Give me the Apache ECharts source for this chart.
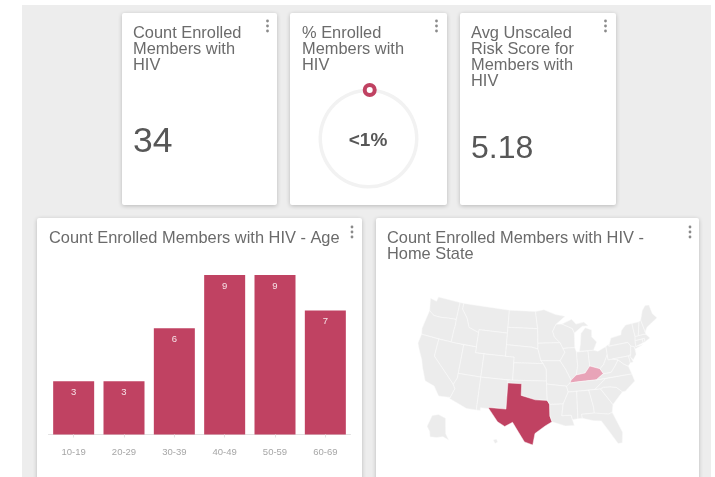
<!DOCTYPE html>
<html>
<head>
<meta charset="utf-8">
<title>HIV members</title>
<script src="https://cdn.jsdelivr.net/npm/echarts@6/dist/echarts.min.js"></script>
<style>
html, body { margin: 0; padding: 0; background: #fff; }
#main { width: 715px; height: 477px; }
</style>
</head>
<body>
<div id="main"></div>
<script>
// values
const ageGroups = ['10-19', '20-29', '30-39', '40-49', '50-59', '60-69'];
const ageCounts = [3, 3, 6, 9, 9, 7];
const enrolledCount = '34';
const enrolledPctLabel = '<1%';
const enrolledPct = [0.4];
const avgRisk = '5.18';
const homeStates = ['Texas', 'Kentucky'];
const homeStateCounts = [33, 1];

const FONT = '"Liberation Sans", Arial, sans-serif';
const CRIMSON = '#c04262';

// rough outlines of the states, lon/lat. AK and HI are insets, same as on the reference
const stateShapes = {
  Washington: [[[-124.7,48.4],[-123,48.2],[-122.8,49],[-117,49],[-117,46],[-119,45.9],[-121,45.7],[-122.7,45.7],[-124,46.3]]],
  Oregon: [[[-124,46.3],[-122.7,45.7],[-121,45.7],[-119,45.9],[-117,46],[-116.9,45],[-117,44.2],[-117,42],[-124.2,42],[-124.5,43]]],
  California: [[[-124.2,42],[-120,42],[-120,39],[-114.6,35],[-114.1,34.3],[-114.7,32.7],[-117.1,32.5],[-118.5,34],[-120.6,34.5],[-121.9,36.6],[-122.5,37.8],[-123.8,39.5],[-124.4,40.4]]],
  Nevada: [[[-120,42],[-114,42],[-114,36.2],[-114.6,35],[-120,39]]],
  Idaho: [[[-117,49],[-116,49],[-116,48],[-114.4,46.6],[-113.5,45.1],[-111,44.5],[-111,42],[-117,42],[-117,44.2],[-116.9,45],[-117,46]]],
  Montana: [[[-116,49],[-104,49],[-104,45],[-111,45],[-111,44.5],[-113.5,45.1],[-114.4,46.6],[-116,48]]],
  Wyoming: [[[-111,45],[-104,45],[-104,41],[-111,41]]],
  Utah: [[[-114,42],[-111,42],[-111,41],[-109,41],[-109,37],[-114,37]]],
  Arizona: [[[-114,37],[-109,37],[-109,31.3],[-111,31.3],[-114.8,32.5],[-114.7,32.7],[-114.1,34.3],[-114.6,35],[-114,36.2]]],
  Colorado: [[[-109,41],[-102,41],[-102,37],[-109,37]]],
  'New Mexico': [[[-109,37],[-103,37],[-103,32],[-106.6,32],[-106.5,31.8],[-108.2,31.8],[-108.2,31.3],[-109,31.3]]],
  'North Dakota': [[[-104,49],[-97.2,49],[-96.6,46],[-104,46]]],
  'South Dakota': [[[-104,46],[-96.6,46],[-96.5,42.5],[-98,42.8],[-104,43]]],
  Nebraska: [[[-104,43],[-98,42.8],[-96.5,42.5],[-95.8,40.5],[-95.3,40],[-102,40],[-102,41],[-104,41]]],
  Kansas: [[[-102,40],[-95.3,40],[-94.6,39],[-94.6,37],[-102,37]]],
  Oklahoma: [[[-103,37],[-94.6,37],[-94.6,36.5],[-94.5,33.7],[-97,33.8],[-100,34.5],[-100,36.5],[-103,36.5]]],
  Texas: [[[-106.6,32],[-103,32],[-103,36.5],[-100,36.5],[-100,34.5],[-97,33.8],[-94.5,33.7],[-94,33],[-94,31],[-93.6,30],[-95,29.3],[-97,28],[-97.4,26],[-99,26.5],[-100.5,28.5],[-101.5,29.8],[-103,29],[-104.5,29.7],[-106.5,31.8]]],
  Minnesota: [[[-97.2,49],[-95,49.3],[-92,48.4],[-89.6,48],[-92,46.7],[-92.9,45.5],[-92.5,44.5],[-91.2,43.5],[-96.5,43.5],[-96.6,46]]],
  Iowa: [[[-96.5,43.5],[-91.2,43.5],[-90.2,41.8],[-91.4,40.4],[-95.8,40.5],[-96.5,42.5]]],
  Missouri: [[[-95.8,40.5],[-91.4,40.4],[-90.2,38.8],[-89.2,37],[-89.5,36.5],[-90.3,36],[-94.6,36.5],[-94.6,39],[-95.3,40]]],
  Arkansas: [[[-94.6,36.5],[-90.3,36],[-90,35],[-91.2,33],[-94,33],[-94.5,33.7]]],
  Louisiana: [[[-94,33],[-91.2,33],[-91.6,31],[-89.7,31],[-89.5,30.2],[-89.2,29.2],[-91,29.2],[-93.6,30],[-94,31]]],
  Wisconsin: [[[-92,46.7],[-90.5,46.7],[-88,45.8],[-87.6,45],[-87.8,42.5],[-90.6,42.5],[-91.2,43.5],[-92.5,44.5],[-92.9,45.5]]],
  Illinois: [[[-90.6,42.5],[-87.8,42.5],[-87.5,41.7],[-87.5,39.3],[-88,37.8],[-89.2,37],[-90.2,38.8],[-91.4,40.4],[-90.2,41.8]]],
  Indiana: [[[-87.5,41.7],[-84.8,41.7],[-84.8,39.1],[-86,38],[-88,37.8],[-87.5,39.3]]],
  Michigan: [[[-86.8,41.8],[-83.5,41.7],[-82.5,43],[-83.5,44],[-83.3,45.2],[-84.8,45.7],[-86,44.8],[-86.4,43]], [[-90.5,46.7],[-88,47.4],[-87,46.5],[-85,46.7],[-84,46],[-85.5,46],[-87.6,45],[-88,45.8]]],
  Ohio: [[[-84.8,41.7],[-83.5,41.7],[-82.5,41.4],[-80.5,42],[-80.5,40.6],[-81.7,39],[-82.6,38.4],[-84.8,39.1]]],
  Kentucky: [[[-89.5,36.5],[-88,36.6],[-83.7,36.6],[-82,37.5],[-82.6,38.4],[-84.8,39.1],[-86,38],[-88,37.8],[-89.2,37]]],
  Tennessee: [[[-90.3,36],[-89.5,36.5],[-88,36.6],[-83.7,36.6],[-81.7,36.6],[-84.3,35],[-90,35]]],
  Mississippi: [[[-90,35],[-88.2,35],[-88.4,30.3],[-89.5,30.2],[-89.7,31],[-91.6,31],[-91.2,33]]],
  Alabama: [[[-88.2,35],[-85.6,35],[-85,32],[-85,31],[-87.6,31],[-87.5,30.3],[-88.4,30.3]]],
  Georgia: [[[-85.6,35],[-83.1,35],[-81,32],[-81.4,30.7],[-82.2,30.5],[-85,30.9],[-85,32]]],
  Florida: [[[-87.6,31],[-85,31],[-82.2,30.5],[-81.4,30.7],[-80,27],[-80.4,25.2],[-81.2,25.2],[-82.7,27.8],[-83.8,29.5],[-85.3,29.7],[-87.5,30.3]]],
  'South Carolina': [[[-83.1,35],[-82.4,35.2],[-81,35.1],[-79.7,34.8],[-78.6,33.9],[-81,32]]],
  'North Carolina': [[[-84.3,35],[-81.7,36.6],[-75.9,36.6],[-75.6,35.3],[-78,33.9],[-78.6,33.9],[-79.7,34.8],[-81,35.1],[-82.4,35.2],[-83.1,35]]],
  Virginia: [[[-83.7,36.6],[-75.9,36.6],[-76.3,38],[-77.2,38.5],[-78.3,39.4],[-79.3,38.4],[-80.3,37.5],[-82,37.5]]],
  'West Virginia': [[[-82,37.5],[-80.3,37.5],[-79.3,38.4],[-78.3,39.4],[-79.5,39.7],[-80.5,39.7],[-80.5,40.6],[-81.7,39],[-82.6,38.4]]],
  Pennsylvania: [[[-80.5,42],[-79.8,42.3],[-79.8,42],[-75.3,42],[-74.8,41.3],[-75.2,39.9],[-75.8,39.7],[-80.5,39.7]]],
  Maryland: [[[-79.5,39.7],[-75.8,39.7],[-75.7,38.5],[-76.3,38],[-77.2,38.5],[-78.3,39.4]]],
  Delaware: [[[-75.8,39.7],[-75.5,39.8],[-75,38.5],[-75.7,38.5]]],
  'New Jersey': [[[-75.2,39.9],[-74.8,41.3],[-74,41],[-74,39.7],[-74.9,38.9],[-75.5,39.5]]],
  'New York': [[[-79.8,42],[-79,43.3],[-76.5,43.5],[-76.2,44.2],[-74.9,45],[-73.3,45],[-73.3,42.7],[-73.5,42],[-73.7,41],[-72,41],[-74,40.6],[-74,41],[-74.8,41.3],[-75.3,42]]],
  Connecticut: [[[-73.5,42],[-71.8,42],[-71.8,41.3],[-73.7,41]]],
  'Rhode Island': [[[-71.8,42],[-71.3,42],[-71.3,41.4],[-71.8,41.3]]],
  Massachusetts: [[[-73.3,42.7],[-71.3,42.7],[-70.7,42.6],[-70,41.8],[-71.3,41.4],[-71.3,42],[-73.5,42]]],
  Vermont: [[[-73.3,45],[-71.5,45],[-72.5,42.7],[-73.3,42.7]]],
  'New Hampshire': [[[-71.5,45],[-71,45.2],[-70.7,43],[-70.7,42.6],[-71.3,42.7],[-72.5,42.7]]],
  Maine: [[[-71,45.2],[-70,46.7],[-69,47.4],[-68,47.3],[-67.8,45.7],[-67,44.8],[-70,43.7],[-70.7,43]]],
  Alaska: [[[-117.5,29],[-116.3,29.4],[-114.8,29],[-114.2,26.4],[-113.4,25.4],[-114.6,25.8],[-115.8,25.4],[-117,25.3],[-117.3,26.2],[-118,27]]],
  Hawaii: [[[-105,26.5],[-104.4,26.7],[-104.1,26.2],[-104.6,25.9]]]
};

const usGeo = {
  type: 'FeatureCollection',
  features: Object.keys(stateShapes).map(function (name) {
    return {
      type: 'Feature',
      properties: { name: name },
      geometry: { type: 'MultiPolygon', coordinates: stateShapes[name].map(function (ring) { return [ring.concat([ring[0]])]; }) }
    };
  })
};
echarts.registerMap('usa', usGeo);

// albers, the map on the reference has the curved northern border
const rad = Math.PI / 180;
const p1 = 29.5 * rad, p2 = 45.5 * rad, lon0 = -96 * rad, lat0 = 37.5 * rad;
const n = (Math.sin(p1) + Math.sin(p2)) / 2;
const c = Math.cos(p1) * Math.cos(p1) + 2 * n * Math.sin(p1);
const rho0 = Math.sqrt(c - 2 * n * Math.sin(lat0)) / n;
const yStretch = 1.05;
const albers = {
  project: function (pt) {
    const rho = Math.sqrt(c - 2 * n * Math.sin(pt[1] * rad)) / n;
    const th = n * (pt[0] * rad - lon0);
    return [rho * Math.sin(th), -(rho0 - rho * Math.cos(th)) * yStretch];
  },
  unproject: function (pt) {
    const y = rho0 + pt[1] / yStretch;
    const rho = Math.sqrt(pt[0] * pt[0] + y * y);
    const th = Math.atan2(pt[0], y);
    return [(th / n + lon0) / rad, Math.asin((c - rho * rho * n * n) / (2 * n)) / rad];
  }
};

function card(x, y, w, h) {
  return {
    type: 'rect', z: 1, silent: true,
    shape: { x: x, y: y, width: w, height: h, r: 2 },
    style: { fill: '#fff', shadowBlur: 4, shadowColor: 'rgba(0,0,0,0.22)', shadowOffsetY: 1 }
  };
}

function menuDots(x, y) {
  return [0, 5, 10].map(function (d) {
    return {
      type: 'circle', z: 2, silent: true,
      shape: { cx: x, cy: y + d, r: 1.4 },
      style: { fill: '#8a8a8a' }
    };
  });
}

function heading(text, x, y) {
  return {
    text: text, left: x, top: y, padding: 0,
    textStyle: { fontFamily: FONT, fontSize: 16.4, fontWeight: 'normal', color: '#6b6b6b', lineHeight: 16 }
  };
}

function bigNumber(text, x, y, size) {
  return {
    text: text, left: x, top: y, padding: 0,
    textStyle: { fontFamily: FONT, fontSize: size, fontWeight: 'normal', color: '#575757' }
  };
}

const chart = echarts.init(document.getElementById('main'), null, { renderer: 'canvas' });

chart.setOption({
  animation: false,
  backgroundColor: '#fff',
  graphic: [
    { type: 'rect', z: 0, silent: true, shape: { x: 22, y: 5, width: 689, height: 472 }, style: { fill: '#ededed' } },
    card(122, 13, 155, 192),
    card(290, 13, 157, 192),
    card(460, 13, 156, 192),
    card(37, 218, 325, 270),
    card(376, 218, 323, 270)
  ].concat(menuDots(267.5, 21), menuDots(436.5, 21), menuDots(605.5, 21), menuDots(352, 227), menuDots(690, 227)),
  title: [
    heading('Count Enrolled\nMembers with\nHIV', 133, 25),
    heading('% Enrolled\nMembers with\nHIV', 302, 25),
    heading('Avg Unscaled\nRisk Score for\nMembers with\nHIV', 471, 25),
    heading('Count Enrolled Members with HIV - Age', 49, 230),
    heading('Count Enrolled Members with HIV -\nHome State', 387, 230),
    bigNumber(enrolledCount, 133, 124, 35.5),
    bigNumber(avgRisk, 471, 133, 32),
    {
      text: enrolledPctLabel, left: 368, top: 131, padding: 0, textAlign: 'center',
      textStyle: { fontFamily: FONT, fontSize: 19, fontWeight: 'bold', color: '#575757' }
    }
  ],
  grid: { left: 48.5, top: 275, width: 302, height: 159.5, containLabel: false },
  xAxis: {
    type: 'category',
    data: ageGroups,
    z: 3,
    axisLine: { lineStyle: { color: '#e2e2e2', width: 1 } },
    axisTick: { show: true, length: 3, alignWithLabel: true, lineStyle: { color: '#e2e2e2' } },
    axisLabel: { color: '#a6a6a6', fontFamily: FONT, fontSize: 9.5, margin: 13 }
  },
  yAxis: { type: 'value', min: 0, max: 9, show: false, splitLine: { show: false } },
  polar: { center: [368.5, 138.5], radius: 48.5 },
  angleAxis: { type: 'value', min: 0, max: 100, startAngle: 90, show: false },
  radiusAxis: { type: 'value', min: 0, max: 1, show: false },
  visualMap: {
    show: false, type: 'continuous', seriesIndex: 3,
    min: homeStateCounts[1], max: homeStateCounts[0],
    inRange: { color: ['#e8a4b8', CRIMSON] }
  },
  series: [
    {
      type: 'bar',
      data: ageCounts,
      barWidth: 41,
      itemStyle: { color: CRIMSON },
      z: 3,
      label: { show: true, position: 'insideTop', distance: 6, color: '#f6e3e8', fontFamily: FONT, fontSize: 9.5 }
    },
    {
      type: 'pie',
      center: [368.5, 138.5],
      radius: [46.5, 50],
      startAngle: 90,
      silent: true,
      label: { show: false },
      z: 3,
      data: [
        { value: enrolledPct[0], itemStyle: { color: CRIMSON } },
        { value: 100 - enrolledPct[0], itemStyle: { color: '#f2f2f2' } }
      ]
    },
    {
      type: 'scatter',
      coordinateSystem: 'polar',
      data: [[1, enrolledPct[0]]],
      symbolSize: 10,
      z: 4,
      itemStyle: { color: '#fff', borderColor: CRIMSON, borderWidth: 4, opacity: 1 }
    },
    {
      type: 'map',
      map: 'usa',
      projection: albers,
      left: 418,
      top: 297,
      width: 239,
      height: 148,
      roam: false,
      silent: true,
      label: { show: false },
      z: 3,
      itemStyle: { areaColor: '#ececec', borderColor: '#fafafa', borderWidth: 0.5 },
      data: homeStates.map(function (s, i) { return { name: s, value: homeStateCounts[i] }; })
    }
  ]
});
</script>
</body>
</html>
